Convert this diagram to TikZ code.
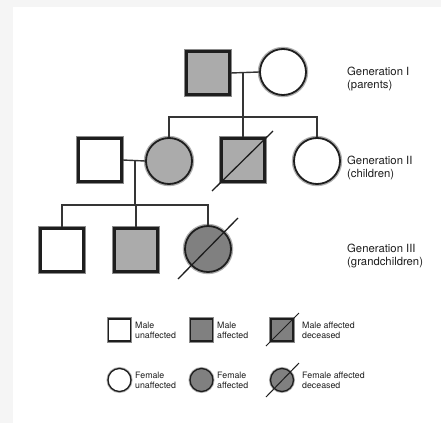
\documentclass[tikz,border=0pt]{standalone}
\usepackage{fontspec}
\setmainfont{TeX Gyre Heros}
\definecolor{lightaff}{HTML}{ABABAB}
\definecolor{darkaff}{HTML}{808080}
\definecolor{ink}{HTML}{1E1E1E}
\definecolor{halo}{HTML}{8C8C8C}
\definecolor{bgband}{HTML}{F5F5F5}
\begin{document}
\begin{tikzpicture}[x=1pt,y=-1pt,
  sq/.style={rectangle, draw=ink, line width=2.6pt, minimum size=43pt, inner sep=0pt, fill=white,
    preaction={draw=halo, line width=4.6pt}},
  ci/.style={circle, draw=ink, line width=1.8pt, minimum size=46pt, inner sep=0pt, fill=white,
    preaction={draw=halo!70, line width=4.4pt}},
  lsq/.style={rectangle, draw=ink, line width=1.8pt, minimum size=22pt, inner sep=0pt, fill=white,
    preaction={draw=halo, line width=3.2pt}},
  lci/.style={circle, draw=ink, line width=1.3pt, minimum size=23pt, inner sep=0pt, fill=white,
    preaction={draw=halo!70, line width=3pt}},
  link/.style={draw=ink!90, line width=1.4pt},
  slash/.style={draw=ink, line width=1.3pt},
  gen/.style={anchor=west, align=left, font=\fontsize{11.3}{12.8}\selectfont, text=ink, inner sep=0pt},
  leg/.style={anchor=west, align=left, font=\fontsize{8.8}{10.2}\selectfont, text=ink, inner sep=0pt},
]
\useasboundingbox (0,0) rectangle (441,423);
\fill[bgband] (0,0) rectangle (441,423);
\fill[white] (13,7) rectangle (441,423);

% Generation I
\node[sq, fill=lightaff] (A) at (208,73) {};
\node[ci] (B) at (283,72) {};
\coordinate (m1) at (243,72);
\coordinate (s1) at (243,117);
\draw[link] (A.east) -- (B.west);
\draw[link] (m1) -- (s1);

% Generation II
\node[sq] (F) at (100,160) {};
\node[ci, fill=lightaff] (C) at (169,161) {};
\node[sq, fill=lightaff] (D) at (243,160) {};
\node[ci] (E) at (317,161) {};
\draw[link] (C.north) -- (C.north |- s1) -- (E.north |- s1) -- (E.north);
\draw[link] (s1) -- (D.north);
\draw[link] (F.east) -- (C.west);
\coordinate (m2) at (135,160);
\coordinate (s2) at (135,205);
\draw[link] (m2) -- (s2);
\draw[slash] ([shift={(-31,31)}]D.center) -- ([shift={(30,-29)}]D.center);

% Generation III
\node[sq] (G) at (62,250) {};
\node[sq, fill=lightaff] (H) at (136,250) {};
\node[ci, fill=darkaff] (I) at (208,249) {};
\draw[link] (G.north) -- (G.north |- s2) -- (I.north |- s2) -- (I.north);
\draw[link] (s2) -- (s2 -| H.north) -- (H.north);
\draw[slash] ([shift={(-30,30)}]I.center) -- ([shift={(30,-31)}]I.center);

% Generation labels
\node[gen] (g1) at (347,79) {Generation I\\(parents)};
\node[gen] (g2) at (347,168) {Generation II\\(children)};
\node[gen] (g3) at (347,256) {Generation III\\(grandchildren)};

% Legend
\node[lsq] (L1) at (119.5,330) {};
\node[lsq, fill=darkaff] (L2) at (201.5,330) {};
\node[lsq, fill=darkaff] (L3) at (282,330) {};
\draw[slash, line width=1pt] ([shift={(-16,16)}]L3.center) -- ([shift={(17,-17)}]L3.center);
\node[lci] (L4) at (119.5,380) {};
\node[lci, fill=darkaff] (L5) at (201.5,380) {};
\node[lci, fill=darkaff] (L6) at (282,380) {};
\draw[slash, line width=1pt] ([shift={(-16,17)}]L6.center) -- ([shift={(17,-17)}]L6.center);

\node[leg] (t1) at (135,330) {Male\\unaffected};
\node[leg] (t2) at (217,330) {Male\\affected};
\node[leg] (t3) at (302,330) {Male affected\\deceased};
\node[leg] (t4) at (135,380) {Female\\unaffected};
\node[leg] (t5) at (217,380) {Female\\affected};
\node[leg] (t6) at (302,380) {Female affected\\deceased};
\end{tikzpicture}
\end{document}
